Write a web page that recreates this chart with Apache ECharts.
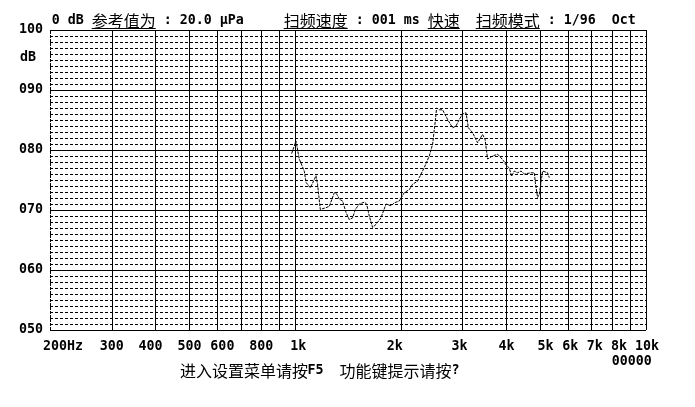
<!DOCTYPE html>
<html><head><meta charset="utf-8">
<script src="https://cdn.jsdelivr.net/npm/echarts@6/dist/echarts.min.js"></script>
<style>html,body{margin:0;padding:0;background:#fff}#c{width:695px;height:407px}</style>
</head><body><div id="c"></div>
<script>
// ---- data ----
const freqs = [977,1005,1027,1061,1074,1104,1134,1146,1158,1179,1211,1251,1293,1316,1336,1365,1396,1426,1458,1484,1523,1574,1598,1626,1662,1700,1756,1815,1876,1917,1980,2047,2115,2161,2233,2258,2334,2411,2465,2508,2530,2575,2631,2719,2810,2873,2937,3002,3069,3116,3204,3310,3347,3421,3476,3536,3576,3654,3775,3860,3927,3990,4077,4139,4212,4304,4403,4500,4702,4805,4836,4909,4964,5073,5130,5242,5300];
const levels = [79.4,81.5,78.5,76.5,74.6,73.7,75.1,75.7,74.3,70.1,70.3,70.6,72.9,72.6,71.8,71.5,69.6,68.4,68.7,70.1,71.0,71.3,71.0,69.0,67.1,67.6,68.7,71.0,70.7,71.2,71.5,72.9,73.4,74.3,74.8,75.4,77.1,79.0,81.0,84.8,87.0,86.7,86.7,85.1,83.7,84.0,85.1,86.0,86.2,83.7,82.9,81.2,80.9,82.6,81.8,78.5,78.2,79.0,79.3,78.7,78.2,77.5,77.0,75.6,76.5,76.2,76.5,76.0,76.2,76.2,74.6,72.1,72.6,76.5,76.2,76.2,75.4];
const gridFreqs = [200,300,400,500,600,700,800,900,1000,2000,3000,4000,5000,6000,7000,8000,9000,10000];
const xTickLabels = ['200Hz','300','400','500','600','','800','','1k','2k','3k','4k','5k','6k','7k','8k','','10k'];
const yMin = 50, yMax = 100, yStep = 10;
const titleParts = [
  ['0 dB','m'],['参考值为','c'],[' : 20.0 μPa','m'],['扫频速度','c'],[' : 001 ms','m'],['快速','c'],['扫频模式','c'],[' : 1/96  Oct','m']
];
const bottomParts = [['进入设置菜单请按','c'],['F5','m'],['功能键提示请按','c'],['?','m']];
const footNote = '00000';
const yUnit = 'dB';

// ---- styles / layout ----
const MONO = "bold 13.3px 'DejaVu Sans Mono', monospace";
const CJK = "16px 'Noto Sans CJK SC', sans-serif";
const monoText = {fontFamily:"'DejaVu Sans Mono', monospace", fontWeight:'bold', fontSize:13.3, color:'#000'};
const titleX = [51.7, 91.7, 155.7, 283.7, 347.7, 427.7, 475.7, 539.7];
const bottomX = [180, 307.5, 339.5, 451.5];
const labelShift = {'200Hz':13,'400':-5,'600':5,'1k':3,'2k':-6,'3k':-3,'5k':5,'6k':2,'7k':3,'8k':7,'10k':1};

const chart = echarts.init(document.getElementById('c'), null, {renderer:'canvas'});
const pts = freqs.map((f,i)=>[f, levels[i]]);

const gridMarks = gridFreqs.map((f,i)=>{
  const lab = xTickLabels[i];
  return [
    {xAxis:f, yAxis:yMin,
     lineStyle:{color:'#000', width:1, type: i===0 ? [3,1] : 'solid'},
     label:Object.assign({show: !!lab, formatter: lab, position:'start', distance:10, offset:[labelShift[lab]||0,0]}, monoText)},
    {xAxis:f, yAxis:yMax}
  ];
});

const graphic = [];
titleParts.forEach((p,i)=>{
  graphic.push({type:'text', x:titleX[i], y:21, silent:true,
    style:{text:p[0], font: p[1]==='m'?MONO:CJK, fill:'#000', align:'left', verticalAlign:'middle'}});
  if (p[1]==='c') {
    const w = p[0].length*16;
    graphic.push({type:'line', silent:true, shape:{x1:titleX[i], y1:28.5, x2:titleX[i]+w, y2:28.5}, style:{stroke:'#000', lineWidth:1}});
  }
});
bottomParts.forEach((p,i)=>{
  graphic.push({type:'text', x:bottomX[i], y:371, silent:true,
    style:{text:p[0], font: p[1]==='m'?MONO:CJK, fill:'#000', align:'left', verticalAlign:'middle'}});
});
graphic.push({type:'text', x:611.7, y:362, silent:true, style:{text:footNote, font:MONO, fill:'#000', align:'left', verticalAlign:'middle'}});
graphic.push({type:'text', x:20, y:58, silent:true, style:{text:yUnit, font:MONO, fill:'#000', align:'left', verticalAlign:'middle'}});

chart.setOption({
  animation:false,
  backgroundColor:'#fff',
  grid:{left:50, top:30, width:596, height:300, show:false},
  xAxis:{type:'log', logBase:10, min:200, max:10000,
    axisLine:{show:false}, axisTick:{show:false}, axisLabel:{show:false}, splitLine:{show:false}},
  yAxis:{type:'value', min:yMin, max:yMax, interval:yStep,
    axisLine:{show:false}, axisTick:{show:false},
    axisLabel:Object.assign({margin:7, formatter:v=>String(v).padStart(3,'0')}, monoText),
    splitLine:{show:true, lineStyle:{color:'#000', width:1}},
    minorTick:{show:false, splitNumber:10},
    minorSplitLine:{show:true, lineStyle:{color:'#000', width:1, type:[3,2]}}},
  graphic: graphic,
  series:[{
    type:'line', data:pts, showSymbol:false, symbol:'none', z:5,
    lineStyle:{color:'#000', width:1, type:[3,1]},
    markLine:{silent:true, symbol:'none', animation:false, data:gridMarks}
  }]
});
</script></body></html>
